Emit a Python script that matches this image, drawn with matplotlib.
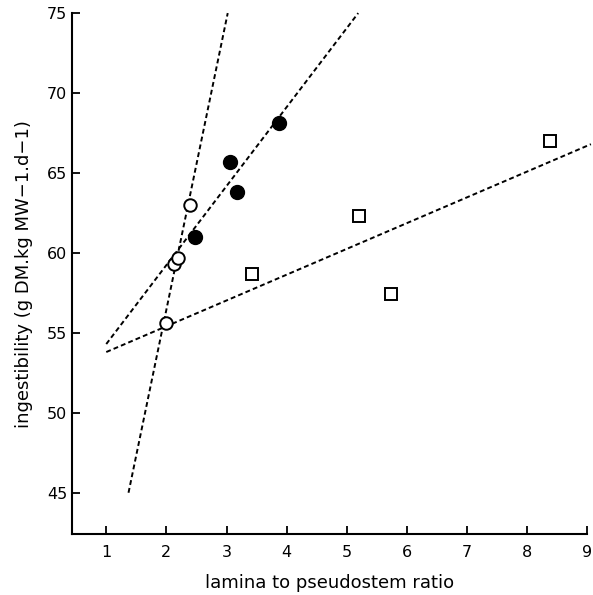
import numpy as np
import matplotlib.pyplot as plt

# open circles
open_x = [2.00, 2.13, 2.19, 2.39]
open_y = [55.6, 59.3, 59.7, 63.0]
# filled circles
filled_x = [2.48, 3.05, 3.18, 3.87]
filled_y = [61.0, 65.7, 63.8, 68.1]
# open squares
square_x = [3.43, 5.21, 5.74, 8.38]
square_y = [58.7, 62.3, 57.4, 67.0]

# regression lines (end points)
steep_x = [1.37, 3.02]
steep_y = [45.0, 75.0]
mid_x = [1.0, 5.19]
mid_y = [54.3, 75.0]
low_x = [1.0, 9.06]
low_y = [53.8, 66.8]

fig = plt.figure(figsize=(5.93, 5.95), dpi=100)
ax = fig.add_axes([0.1214, 0.102, 0.869, 0.876])

dash = (0, (2.5, 1.6))
for lx, ly in [(steep_x, steep_y), (mid_x, mid_y), (low_x, low_y)]:
    ax.plot(lx, ly, color='black', linestyle=dash, linewidth=1.4, clip_on=False)

ax.plot(open_x, open_y, 'o', markersize=9, markerfacecolor='white',
        markeredgecolor='black', markeredgewidth=1.4, linestyle='none')
ax.plot(filled_x, filled_y, 'o', markersize=10, color='black', linestyle='none')
ax.plot(square_x, square_y, 's', markersize=9, markerfacecolor='white',
        markeredgecolor='black', markeredgewidth=1.4, linestyle='none')

ax.set_xlim(0.43, 9)
ax.set_ylim(42.4, 75)
ax.set_xticks(range(1, 10))
ax.set_yticks(range(45, 80, 5))
ax.spines['top'].set_visible(False)
ax.spines['right'].set_visible(False)
ax.spines['left'].set_linewidth(1.5)
ax.spines['bottom'].set_linewidth(1.5)
ax.tick_params(direction='in', length=6, width=1.3, labelsize=11.5)
ax.tick_params(axis='x', pad=8)

ax.set_xlabel('lamina to pseudostem ratio', fontsize=13, labelpad=10)
ax.set_ylabel('ingestibility (g DM.kg MW\u22121.d\u22121)', fontsize=13, labelpad=10)

fig.savefig('out.png', dpi=100)
